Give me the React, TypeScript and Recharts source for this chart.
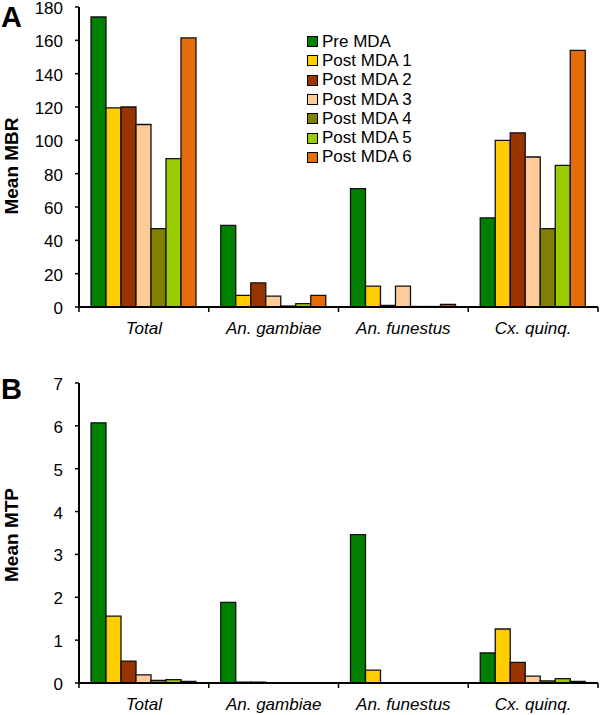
import React from 'react';
import { BarChart, Bar, XAxis, YAxis, Legend } from 'recharts';

const categories = ['Total', 'An. gambiae', 'An. funestus', 'Cx. quinq.'];
const seriesNames = ['Pre MDA', 'Post MDA 1', 'Post MDA 2', 'Post MDA 3', 'Post MDA 4', 'Post MDA 5', 'Post MDA 6'];
const seriesColors = ['#008000', '#FFCC00', '#993300', '#FFCC99', '#808000', '#99CC00', '#E46C0A'];

// Panel A: Mean MBR
const preMBR = [174, 49, 71, 53.5];
const post1MBR = [119.5, 7, 12.5, 100];
const post2MBR = [120, 14.5, 1, 104.5];
const post3MBR = [109.5, 6.5, 12.5, 90];
const post4MBR = [47, 0.6, 0.3, 47];
const post5MBR = [89, 2, 0.3, 85];
const post6MBR = [161.5, 7, 1.5, 154];

// Panel B: Mean MTP
const preMTP = [6.07, 1.88, 3.46, 0.7];
const post1MTP = [1.56, 0.02, 0.3, 1.26];
const post2MTP = [0.51, 0.02, 0, 0.48];
const post3MTP = [0.19, 0, 0, 0.16];
const post4MTP = [0.06, 0, 0, 0.05];
const post5MTP = [0.08, 0, 0, 0.1];
const post6MTP = [0.04, 0, 0, 0.04];

const mbrTicks = [0, 20, 40, 60, 80, 100, 120, 140, 160, 180];
const mtpTicks = [0, 1, 2, 3, 4, 5, 6, 7];

const mbrSeries = [preMBR, post1MBR, post2MBR, post3MBR, post4MBR, post5MBR, post6MBR];
const mtpSeries = [preMTP, post1MTP, post2MTP, post3MTP, post4MTP, post5MTP, post6MTP];

const buildRows = (series: number[][]) =>
  categories.map((c, i) => {
    const row: any = { category: c };
    series.forEach((s, j) => {
      row['s' + j] = s[i];
    });
    return row;
  });

const mbrRows = buildRows(mbrSeries);
const mtpRows = buildRows(mtpSeries);

const FONT = '"Liberation Sans", Arial, sans-serif';
const W = 600;
const Y_AXIS_W = 79;
const RIGHT = 2;
const BAND = (W - Y_AXIS_W - RIGHT) / categories.length;

const makeXTick = (axisY: number) => (props: any) => {
  const { x, payload, index } = props;
  const left = x - BAND / 2;
  const right = x + BAND / 2;
  return (
    <g>
      <line x1={left} x2={left} y1={axisY} y2={axisY + 5} stroke="#000" strokeWidth={1.5} />
      {index === categories.length - 1 && (
        <line x1={right} x2={right} y1={axisY} y2={axisY + 5} stroke="#000" strokeWidth={1.5} />
      )}
      <text x={x} y={axisY + 26.5} textAnchor="middle" fontStyle="italic" fontSize={17} fontFamily={FONT} fill="#000">
        {payload.value}
      </text>
    </g>
  );
};

const makeYTick = () => (props: any) => {
  const { x, y, payload } = props;
  return (
    <text x={x} y={y + 1.5} textAnchor="end" dominantBaseline="central" fontSize={17} fontFamily={FONT} fill="#000">
      {payload.value}
    </text>
  );
};

const makeYTitle = (title: string, letter: string, letterY: number, dyTitle: number) => (props: any) => {
  const vb = props.viewBox || { x: 0, y: 0, width: 0, height: 0 };
  const cx = 11;
  const cy = vb.y + vb.height / 2 + dyTitle;
  return (
    <g>
      <text
        x={cx}
        y={cy}
        transform={`rotate(-90 ${cx} ${cy})`}
        textAnchor="middle"
        dominantBaseline="central"
        fontFamily={FONT}
        fontWeight="bold"
        fontSize={19}
        fill="#000"
      >
        {title}
      </text>
      <text x={1} y={letterY} fontFamily={FONT} fontWeight="bold" fontSize={29} fill="#000">
        {letter}
      </text>
    </g>
  );
};

const LegendContent = () => (
  <div style={{ fontFamily: FONT, fontSize: 17, color: '#000' }}>
    {seriesNames.map((n, i) => (
      <div key={n} style={{ display: 'flex', alignItems: 'center', height: 19.3, whiteSpace: 'nowrap' }}>
        <span
          style={{
            display: 'inline-block',
            boxSizing: 'border-box',
            width: 11,
            height: 11,
            background: seriesColors[i],
            border: '1.5px solid #000',
            marginRight: 4,
          }}
        />
        <span>{n}</span>
      </div>
    ))}
  </div>
);

export default function App() {
  return (
    <div style={{ position: 'absolute', left: 0, top: 0, width: 600, height: 715, background: '#fff' }}>
      <div style={{ position: 'absolute', left: 0, top: 0 }}>
        <BarChart
          width={600}
          height={340}
          data={mbrRows}
          margin={{ top: 7, right: RIGHT, bottom: 0, left: 0 }}
          barCategoryGap={12}
          barGap={0}
        >
          <XAxis
            dataKey="category"
            height={33}
            axisLine={{ stroke: '#000', strokeWidth: 2 }}
            tickLine={false}
            tick={makeXTick(307)}
            interval={0}
          />
          <YAxis
            width={Y_AXIS_W}
            domain={[0, 180]}
            ticks={mbrTicks}
            interval={0}
            axisLine={{ stroke: '#000', strokeWidth: 2 }}
            tickLine={{ stroke: '#000', strokeWidth: 1.5 }}
            tickSize={4}
            tickMargin={12}
            tick={makeYTick()}
            label={{ content: makeYTitle('Mean MBR', 'A', 27, 9) }}
          />
          <Legend
            layout="vertical"
            align="center"
            verticalAlign="middle"
            content={LegendContent}
            wrapperStyle={{ left: 307, top: 32, width: 'auto', height: 'auto' }}
          />
          {seriesNames.map((n, i) => (
            <Bar
              key={n}
              dataKey={'s' + i}
              name={n}
              fill={seriesColors[i]}
              stroke="#111"
              strokeWidth={1.3}
              isAnimationActive={false}
            />
          ))}
        </BarChart>
      </div>
      <div style={{ position: 'absolute', left: 0, top: 370 }}>
        <BarChart
          width={600}
          height={345}
          data={mtpRows}
          margin={{ top: 13, right: RIGHT, bottom: 0, left: 0 }}
          barCategoryGap={12}
          barGap={0}
        >
          <XAxis
            dataKey="category"
            height={32}
            axisLine={{ stroke: '#000', strokeWidth: 2 }}
            tickLine={false}
            tick={makeXTick(313)}
            interval={0}
          />
          <YAxis
            width={Y_AXIS_W}
            domain={[0, 7]}
            ticks={mtpTicks}
            interval={0}
            axisLine={{ stroke: '#000', strokeWidth: 2 }}
            tickLine={{ stroke: '#000', strokeWidth: 1.5 }}
            tickSize={4}
            tickMargin={12}
            tick={makeYTick()}
            label={{ content: makeYTitle('Mean MTP', 'B', 28.5, 2) }}
          />
          {seriesNames.map((n, i) => (
            <Bar
              key={n}
              dataKey={'s' + i}
              name={n}
              fill={seriesColors[i]}
              stroke="#111"
              strokeWidth={1.3}
              isAnimationActive={false}
            />
          ))}
        </BarChart>
      </div>
    </div>
  );
}
